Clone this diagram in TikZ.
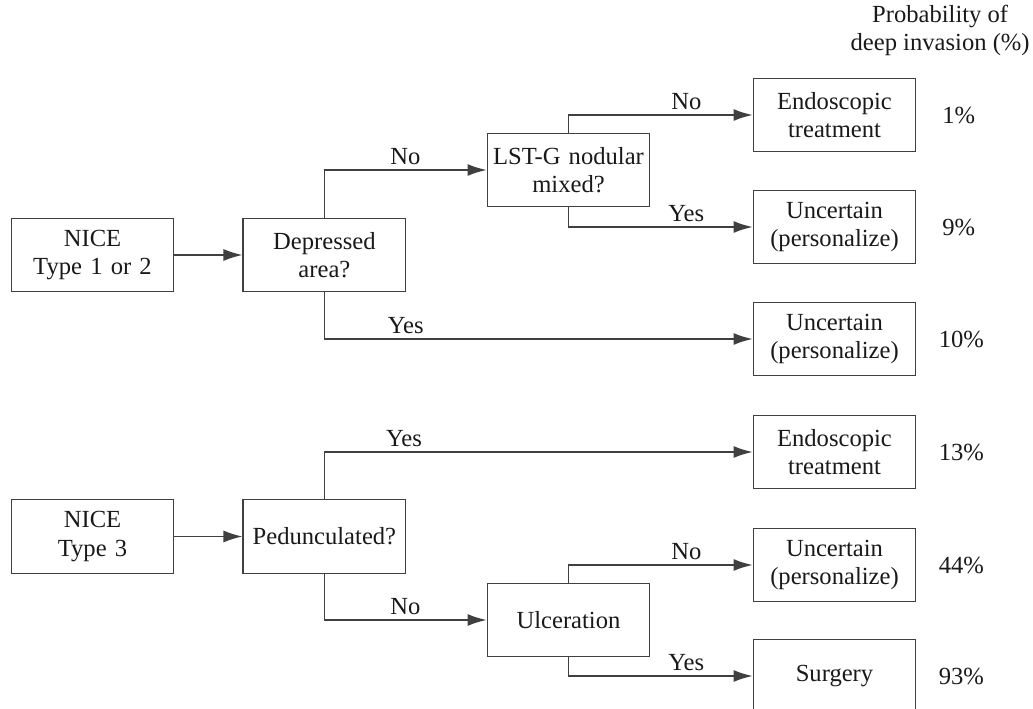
\documentclass[tikz,border=0pt]{standalone}
\usepackage{fontspec}
\setmainfont{Liberation Serif}
\usepackage{tikz}
\usetikzlibrary{arrows.meta, positioning}

\begin{document}
\begin{tikzpicture}[
                font=\fontsize{14}{16}\selectfont,
                text=black!90,
                box/.style={rectangle, draw=black!75, line width=0.8pt, text width=3.1cm, align=center, minimum width=3.25cm, minimum height=1.47cm, inner sep=2pt},
                pct/.style={text width=0.8cm, align=center, inner sep=0pt},
                lbl/.style={above, inner sep=2.5pt},
                line/.style={draw=black!75, line width=0.8pt, -{Latex[length=3.8mm, width=2.4mm]}}
            ]
                % frame of the page
                \useasboundingbox (0,0) rectangle (20.66,-14.18);

                % Place nodes
                \node [box] (P_nice1) at (1.85,-5.1) {NICE\\Type 1 or 2};
                \node [box, right=1.36cm of P_nice1] (P_dep) {Depressed\\area?};
                \node [box] (P_lst) at (11.37,-3.4) {LST-G nodular\\mixed?};

                \node [box] (P_nice3) at (1.85,-10.73) {NICE\\Type 3};
                \node [box, right=1.36cm of P_nice3] (P_ped) {Pedunculated?};
                \node [box] (P_ulc) at (11.37,-12.4) {Ulceration};

                % outcome column
                \node [box] (P_endo1) at (16.69,-2.3) {Endoscopic\\treatment};
                \node [box] (P_unc1) at (16.69,-4.54) {Uncertain\\(personalize)};
                \node [box] (P_unc2) at (16.69,-6.78) {Uncertain\\(personalize)};
                \node [box] (P_endo2) at (16.69,-9.04) {Endoscopic\\treatment};
                \node [box] (P_unc3) at (16.69,-11.3) {Uncertain\\(personalize)};
                \node [box] (P_surg) at (16.69,-13.52) {Surgery};

                % probabilities
                \node [pct, right=0.44cm of P_endo1] (P_p1) {1\%};
                \node [pct, right=0.44cm of P_unc1] (P_p2) {9\%};
                \node [pct, right=0.44cm of P_unc2] (P_p3) {10\%};
                \node [pct, right=0.44cm of P_endo2] (P_p4) {13\%};
                \node [pct, right=0.44cm of P_unc3] (P_p5) {44\%};
                \node [pct, right=0.44cm of P_surg] (P_p6) {93\%};
                \node [align=center, inner sep=0pt, anchor=north east] (P_head) at (20.6,-0.1) {Probability of\\deep invasion (\%)};

                % Draw edges
                \path [line] (P_nice1) -- (P_dep);
                \path [line] (P_dep.north) |- node [lbl, pos=0.75] {No} (P_lst.west);
                \path [line] (P_dep.south) |- node [lbl, pos=0.595] {Yes} (P_unc2.west);
                \path [line] (P_lst.north) |- node [lbl, pos=0.82] {No} (P_endo1.west);
                \path [line] (P_lst.south) |- node [lbl, pos=0.82] {Yes} (P_unc1.west);

                \path [line] (P_nice3) -- (P_ped);
                \path [line] (P_ped.north) |- node [lbl, pos=0.593] {Yes} (P_endo2.west);
                \path [line] (P_ped.south) |- node [lbl, pos=0.75] {No} (P_ulc.west);
                \path [line] (P_ulc.north) |- node [lbl, pos=0.82] {No} (P_unc3.west);
                \path [line] (P_ulc.south) |- node [lbl, pos=0.82] {Yes} (P_surg.west);

            \end{tikzpicture}
\end{document}
